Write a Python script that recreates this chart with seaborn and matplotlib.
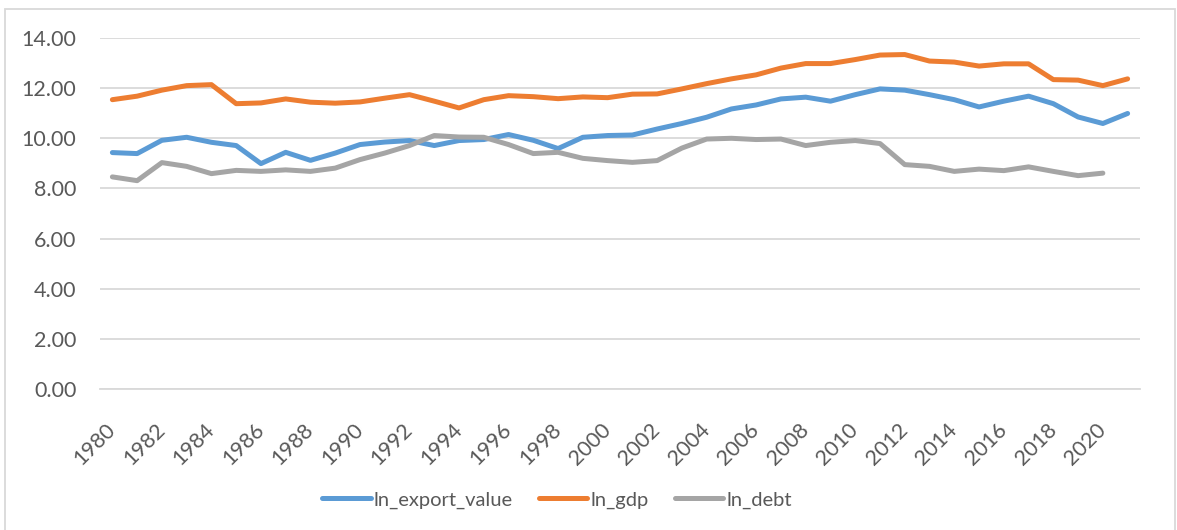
import numpy as np
import pandas as pd
import matplotlib
matplotlib.use('Agg')
import matplotlib.pyplot as plt
from matplotlib.patches import Rectangle
import seaborn as sns

years = list(range(1980, 2022))

ln_export_value = [9.43, 9.39, 9.92, 10.04, 9.84, 9.71, 8.99, 9.44, 9.12, 9.41,
                   9.75, 9.85, 9.91, 9.71, 9.91, 9.95, 10.15, 9.92, 9.59, 10.04,
                   10.11, 10.13, 10.37, 10.59, 10.84, 11.17, 11.33, 11.57, 11.64, 11.48,
                   11.74, 11.97, 11.92, 11.74, 11.54, 11.25, 11.48, 11.68, 11.38, 10.85,
                   10.59, 10.99]
ln_gdp = [11.54, 11.68, 11.92, 12.10, 12.14, 11.38, 11.41, 11.57, 11.44, 11.40,
          11.45, 11.60, 11.74, 11.48, 11.21, 11.54, 11.70, 11.66, 11.58, 11.65,
          11.62, 11.76, 11.77, 11.97, 12.18, 12.37, 12.53, 12.80, 12.98, 12.98,
          13.14, 13.32, 13.34, 13.08, 13.04, 12.88, 12.97, 12.97, 12.34, 12.32,
          12.10, 12.37]
ln_debt = [8.46, 8.31, 9.03, 8.88, 8.59, 8.72, 8.68, 8.74, 8.68, 8.81,
           9.15, 9.41, 9.71, 10.11, 10.05, 10.04, 9.75, 9.39, 9.44, 9.20,
           9.11, 9.04, 9.11, 9.61, 9.97, 10.00, 9.95, 9.97, 9.71, 9.84,
           9.91, 9.79, 8.95, 8.88, 8.68, 8.77, 8.71, 8.86, 8.68, 8.51,
           8.61, np.nan]

series_names = ['ln_export_value', 'ln_gdp', 'ln_debt']
colors = ['#5B9BD5', '#ED7D31', '#A5A5A5']

df = pd.DataFrame({'year': years, 'ln_export_value': ln_export_value,
                   'ln_gdp': ln_gdp, 'ln_debt': ln_debt})
long_df = df.melt(id_vars='year', var_name='series', value_name='value').dropna()

sns.set_style('white')
plt.rcParams['font.family'] = ['Lato', 'DejaVu Sans']
txt_color = '#595959'
grid_color = '#D9D9D9'
lw = 3.6

fig = plt.figure(figsize=(11.77, 5.30), dpi=100)
ax = fig.add_axes([100 / 1177, 1 - 389 / 530, 1040 / 1177, 351 / 530])

sns.lineplot(data=long_df, x='year', y='value', hue='series', hue_order=series_names,
             palette=colors, linewidth=lw, solid_capstyle='round', ax=ax)

ax.set_xlim(1979.5, 2021.5)
ax.set_ylim(0, 14)
ax.set_yticks(np.arange(0, 15, 2))
ax.set_yticklabels(['%.2f' % v for v in np.arange(0, 15, 2)])
ax.set_xticks(years[::2])
ax.set_xticklabels([str(y) for y in years[::2]], rotation=45, ha='right',
                   va='center', rotation_mode='anchor')
ax.set_xticks(np.arange(1979.5, 2022, 2), minor=True)
ax.tick_params(axis='x', which='major', length=0, pad=27, labelsize=15.5, labelcolor=txt_color)
ax.tick_params(axis='x', which='minor', length=7, width=1.3, color=grid_color, direction='out')
ax.tick_params(axis='y', length=0, pad=17, labelsize=15.5, labelcolor=txt_color)
ax.grid(axis='y', color=grid_color, linewidth=1.3)
ax.set_axisbelow(True)
for s in ['top', 'right', 'left']:
    ax.spines[s].set_visible(False)
ax.spines['bottom'].set_color(grid_color)
ax.spines['bottom'].set_linewidth(1.3)
ax.set_xlabel('')
ax.set_ylabel('')

handles, labels = ax.get_legend_handles_labels()
leg = ax.legend(handles, labels, loc='center', bbox_to_anchor=(557 / 1177, 1 - 500 / 530),
                bbox_transform=fig.transFigure, ncol=3, frameon=False, fontsize=14.5,
                handlelength=2.4, handletextpad=0.15, columnspacing=1.3)
for t in leg.get_texts():
    t.set_color(txt_color)
for h in leg.get_lines():
    h.set_linewidth(lw)
    h.set_solid_capstyle('round')

fig.patches.append(Rectangle((5 / 1177, -0.01), 1170 / 1177, 1 - 9 / 530 + 0.01,
                             transform=fig.transFigure, fill=False,
                             edgecolor=grid_color, linewidth=1.3))

fig.savefig('out.png', dpi=100)
